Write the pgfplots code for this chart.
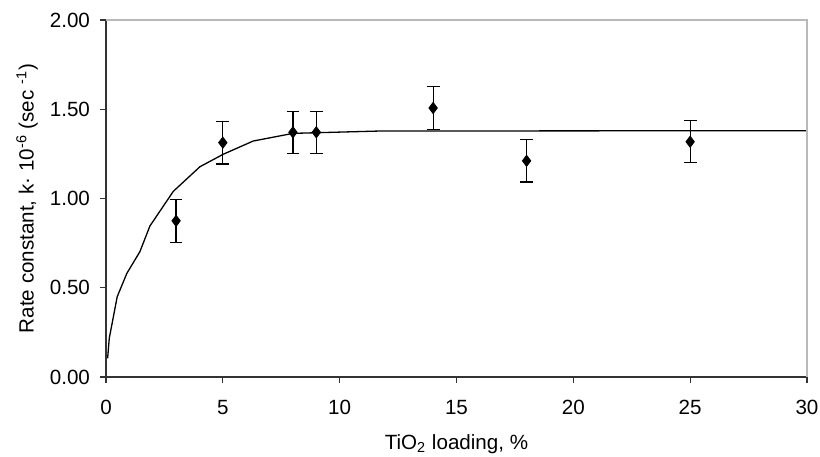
\documentclass[border=0pt]{standalone}
\usepackage{fontspec}
\setmainfont{Liberation Sans}
\usepackage{pgfplots}
\pgfplotsset{compat=1.18}

\pgfplotstableread{
x    y      e
3    0.875  0.12
5    1.313  0.12
8    1.371  0.118
9    1.371  0.118
14   1.507  0.12
18   1.211  0.118
25   1.318  0.118
}\measured

\pgfplotstableread{
x     y
0.07  0.105
0.14  0.217
0.48  0.45
0.89  0.58
1.45  0.702
1.88  0.846
2.88  1.04
4.02  1.178
5.02  1.248
6.30  1.322
8.01  1.365
11.7  1.378
30    1.38
}\fitted

\begin{document}
\begin{tikzpicture}
\begin{axis}[
  at={(0,0)}, anchor=south west,
  scale only axis,
  width=350.5pt, height=178.5pt,
  xmin=0, xmax=30, ymin=0, ymax=2,
  xtick={0,5,...,30},
  ytick={0,0.5,...,2},
  axis x line*=bottom, axis y line*=left,
  axis line style={-, black!80, line width=0.6pt},
  tick align=outside, major tick length=3pt,
  tick style={black!80, line width=0.6pt},
  font=\fontsize{10.3}{12}\selectfont,
  /pgf/number format/assume math mode=true,
  yticklabel style={xshift=-1.5pt, /pgf/number format/.cd, fixed, fixed zerofill, precision=2},
  xticklabel style={yshift=-5pt},
  xlabel={TiO\textsubscript{2} loading, \%},
  ylabel={Rate constant, k· 10\textsuperscript{-6} (sec \textsuperscript{-1})},
  every axis x label/.style={at={(axis description cs:0.5,-0.203)}, anchor=base},
  every axis y label/.style={at={(axis description cs:-0.1127,0.5)}, rotate=90, anchor=center},
  clip=false,
]
\addplot[black, line width=0.65pt, sharp plot] table[x=x, y=y] {\fitted};
\addplot[black, only marks, mark=diamond*, mark size=2.8pt,
  error bars/.cd, y dir=both, y explicit,
  error bar style={line width=0.6pt, black},
  error mark options={rotate=90, mark size=3.2pt, line width=0.6pt, black}]
  table[x=x, y=y, y error=e] {\measured};
\draw[gray!55, line width=0.6pt] (rel axis cs:0,1) -- (rel axis cs:1,1) -- (rel axis cs:1,0);
\end{axis}
\pgfresetboundingbox
\path (-53pt,-39.5pt) rectangle (357pt,188.5pt);
\end{tikzpicture}
\end{document}
